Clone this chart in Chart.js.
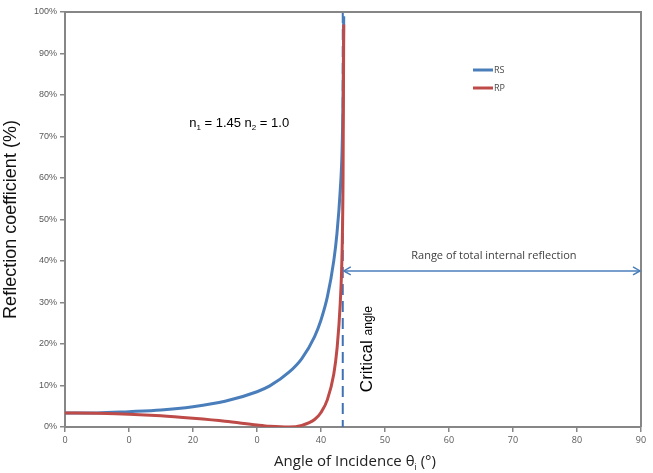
<!DOCTYPE html>
<html><head><meta charset="utf-8">
<script src="https://cdn.jsdelivr.net/npm/chart.js@4/dist/chart.umd.min.js"></script>
<style>html,body{margin:0;padding:0;background:#fff}#wrap{width:653px;height:473px;position:relative}</style>
</head><body><div id="wrap"><canvas id="c" width="653" height="473"></canvas></div>
<script>
// ---- data ----
const angles   = [0, 5, 10, 15, 20, 25, 30, 32, 35, 37, 39, 40, 41, 42, 42.5, 43, 43.3, 43.45, 43.55];
const rsValues = [3.4, 3.4, 3.7, 4.1, 4.9, 6.2, 8.5, 9.9, 13.2, 16.5, 21.8, 25.8, 31.4, 40.1, 46.7, 56.9, 67.0, 80, 99];
const rpValues = [3.4, 3.3, 3.1, 2.7, 2.1, 1.4, 0.5, 0.2, 0.0, 0.4, 1.8, 3.5, 6.6, 12.8, 18.8, 29.7, 42.7, 61, 97];
const seriesNames = ['RS', 'RP'];
const xTickLabels = ['0', '0', '20', '0', '40', '50', '60', '70', '80', '90'];
const criticalAngle = 43.4;

const BLUE = '#4a7ebb', RED = '#be4b48', AXIS = '#868686', TXT = '#595959';

const toPts = (ys) => angles.map((a, i) => ({x: a, y: ys[i]}));

const deco = {
  id: 'deco',
  beforeDatasetsDraw(chart) {
    const {ctx, chartArea: a, scales: {x}} = chart;
    const cx = x.getPixelForValue(criticalAngle);
    ctx.save();
    ctx.strokeStyle = '#3f72b5'; ctx.lineWidth = 2; ctx.setLineDash([11, 6]);
    ctx.beginPath(); ctx.moveTo(cx, a.top); ctx.lineTo(cx, a.bottom); ctx.stroke();
    ctx.restore();
  },
  afterDraw(chart) {
    const {ctx, chartArea: a, scales: {x, y}} = chart;
    ctx.save();
    // box top and right
    ctx.strokeStyle = AXIS; ctx.lineWidth = 2;
    ctx.beginPath(); ctx.moveTo(a.left, a.top); ctx.lineTo(a.right, a.top); ctx.lineTo(a.right, a.bottom); ctx.stroke();

    // legend
    const lx = a.left + 408, ly = a.top + 58;
    ctx.lineWidth = 3;
    [BLUE, RED].forEach((c, i) => {
      ctx.strokeStyle = c;
      ctx.beginPath(); ctx.moveTo(lx, ly + i * 18); ctx.lineTo(lx + 20, ly + i * 18); ctx.stroke();
      ctx.fillStyle = '#4a4a4a'; ctx.font = '9px "Open Sans", "Liberation Sans", sans-serif';
      ctx.textBaseline = 'middle'; ctx.textAlign = 'left';
      ctx.fillText(seriesNames[i], lx + 21, ly + i * 18);
    });

    // n1 / n2 annotation
    ctx.fillStyle = '#000'; ctx.textBaseline = 'alphabetic';
    let tx = x.getPixelForValue(19.4), ty = y.getPixelForValue(72.3);
    const big = '13px "Liberation Sans", Arial, sans-serif', small = '8px "Liberation Sans", Arial, sans-serif';
    const parts = [['n', big, 0], ['1', small, 3], [' = 1.45 n', big, 0], ['2', small, 3], [' = 1.0', big, 0]];
    parts.forEach(([t, f, dy]) => { ctx.font = f; ctx.fillText(t, tx, ty + dy); tx += ctx.measureText(t).width; });

    // range arrow
    const ay = y.getPixelForValue(37.6);
    const x1 = x.getPixelForValue(criticalAngle) + 1, x2 = x.getPixelForValue(90) - 1;
    ctx.strokeStyle = BLUE; ctx.lineWidth = 1.5;
    ctx.beginPath(); ctx.moveTo(x1, ay); ctx.lineTo(x2, ay); ctx.stroke();
    ctx.beginPath();
    ctx.moveTo(x1 + 7, ay - 4); ctx.lineTo(x1, ay); ctx.lineTo(x1 + 7, ay + 4);
    ctx.moveTo(x2 - 7, ay - 4); ctx.lineTo(x2, ay); ctx.lineTo(x2 - 7, ay + 4);
    ctx.stroke();
    ctx.fillStyle = '#404040'; ctx.font = '11px "Open Sans", "Liberation Sans", sans-serif';
    ctx.textAlign = 'center';
    ctx.fillText('Range of total internal reflection', (x1 + x2) / 2 + 2, y.getPixelForValue(40.6));

    // critical angle (rotated)
    ctx.save();
    ctx.translate(x.getPixelForValue(criticalAngle) + 29, y.getPixelForValue(8.4));
    ctx.rotate(-Math.PI / 2);
    ctx.textAlign = 'left'; ctx.fillStyle = '#000';
    ctx.font = '17px "Liberation Sans", Arial, sans-serif';
    ctx.fillText('Critical ', 0, 0);
    const w = ctx.measureText('Critical ').width;
    ctx.font = '12px "Liberation Sans", Arial, sans-serif';
    ctx.fillText('angle', w, 0);
    ctx.restore();

    // x axis title with subscript
    const t1 = 'Angle of Incidence θ', t2 = 'i', t3 = ' (°)';
    const fB = '15px "Open Sans", "Liberation Sans", sans-serif', fS = '9px "Open Sans", "Liberation Sans", sans-serif';
    ctx.font = fB; const w1 = ctx.measureText(t1).width, w3 = ctx.measureText(t3).width;
    ctx.font = fS; const w2 = ctx.measureText(t2).width;
    let sx = (a.left + a.right) / 2 - (w1 + w2 + w3) / 2 + 2;
    const by = 466;
    ctx.textAlign = 'left'; ctx.fillStyle = '#222';
    ctx.font = fB; ctx.fillText(t1, sx, by); sx += w1;
    ctx.font = fS; ctx.fillText(t2, sx, by + 4); sx += w2;
    ctx.font = fB; ctx.fillText(t3, sx, by);
    ctx.restore();
  }
};

new Chart(document.getElementById('c'), {
  type: 'line',
  data: {
    datasets: [
      {label: seriesNames[0], data: toPts(rsValues), borderColor: BLUE, backgroundColor: BLUE, borderWidth: 3, pointRadius: 0, cubicInterpolationMode: 'monotone', order: 1},
      {label: seriesNames[1], data: toPts(rpValues), borderColor: RED, backgroundColor: RED, borderWidth: 3, pointRadius: 0, cubicInterpolationMode: 'monotone', order: 0}
    ]
  },
  options: {
    responsive: false, animation: false,
    layout: {padding: {left: 0, right: 12, top: 12, bottom: 0}},
    plugins: {legend: {display: false}, tooltip: {enabled: false}},
    scales: {
      x: {
        type: 'linear', min: 0, max: 90,
        afterFit: (s) => { s.height = 46; },
        border: {display: true, color: AXIS, width: 2},
        grid: {display: true, drawOnChartArea: false, drawTicks: true, tickLength: 5, color: AXIS, lineWidth: 1.5},
        ticks: {stepSize: 10, color: TXT, font: {size: 9, family: '"Open Sans", "Liberation Sans", sans-serif'}, padding: 3, maxRotation: 0,
                callback: (v, i) => xTickLabels[i]}
      },
      y: {
        min: 0, max: 100,
        afterFit: (s) => { s.width = 65; },
        border: {display: true, color: AXIS, width: 2},
        grid: {display: true, drawOnChartArea: false, drawTicks: true, tickLength: 5, color: AXIS, lineWidth: 1.5},
        ticks: {stepSize: 10, color: TXT, font: {size: 9, family: '"Liberation Sans", Arial, sans-serif'}, padding: 3,
                callback: (v) => v + '%'},
        title: {display: true, text: 'Reflection coefficient (%)', color: '#111', font: {size: 18, family: '"Liberation Sans", Arial, sans-serif'}, padding: {top: 0, bottom: 4}}
      }
    }
  },
  plugins: [deco]
});
</script>
</body></html>
